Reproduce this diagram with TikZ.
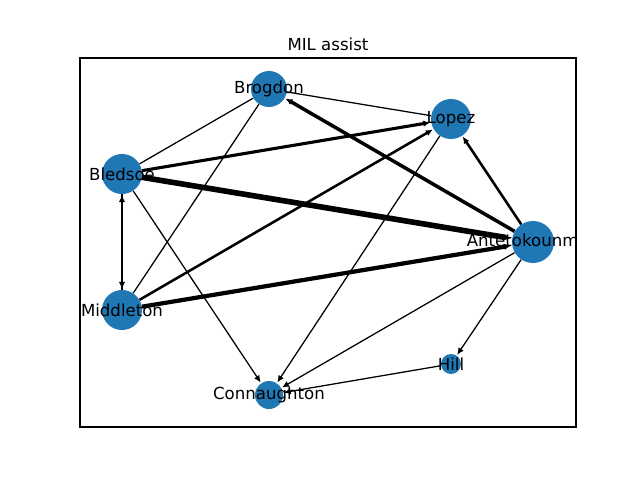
\documentclass[tikz,border=0pt]{standalone}
\usepackage{fontspec}
\setmainfont{DejaVu Sans}
\usetikzlibrary{arrows.meta,positioning}
\definecolor{nodeblue}{HTML}{1F77B4}
\begin{document}
\begin{tikzpicture}[x=0.025cm,y=-0.025cm]
\tikzstyle{player}=[circle,fill=nodeblue,inner sep=0pt]
\tikzstyle{playername}=[font=\fontsize{11.8}{14}\selectfont,inner sep=0pt]
\tikzstyle{pass}=[-{Latex[length=5pt,width=4.5pt]},line width=0.9pt,shorten >=0.5pt]
\tikzstyle{plainpass}=[line width=0.9pt]
\useasboundingbox (0,0) rectangle (640,480);
\node [font=\fontsize{11.8}{14}\selectfont] at (328,44) (title) {MIL assist};
\draw [line width=0.8pt] (80,58) rectangle (576,427);
\node [player,minimum size=0.9cm] at (269,89) (brog) {};
\node [player,minimum size=1.0cm] at (451,119) (lopez) {};
\node [player,minimum size=1.0cm] at (122,174) (bled) {};
\node [player,minimum size=1.05cm] at (533,242) (ante) {};
\node [player,minimum size=1.0cm] at (122,310) (midd) {};
\node [player,minimum size=0.5cm] at (451,364) (hill) {};
\node [player,minimum size=0.7cm] at (269,395) (conn) {};
\draw [pass,line width=4pt] (bled) -- (ante);
\draw [pass,line width=3pt] (midd) -- (ante);
\draw [pass,line width=2.5pt] (ante) -- (brog);
\draw [pass,line width=2.2pt] (bled) -- (lopez);
\draw [pass,line width=1.8pt] (ante) -- (lopez);
\draw [pass,line width=1.8pt] (midd) -- (lopez);
\draw [pass,line width=1.8pt] (bled) -- (midd);
\draw [pass,line width=1.8pt] (midd) -- (bled);
\draw [plainpass] (brog) -- (lopez);
\draw [plainpass] (bled) -- (brog);
\draw [plainpass] (midd) -- (brog);
\draw [pass] (bled) -- (conn);
\draw [pass] (lopez) -- (conn);
\draw [pass] (ante) -- (conn);
\draw [pass] (ante) -- (hill);
\draw [pass] (hill) -- (conn);
\begin{scope}
\clip (80,58) rectangle (576,427);
\node [playername] at (brog) (lbrog) {Brogdon};
\node [playername] at (lopez) (llopez) {Lopez};
\node [playername] at (bled) (lbled) {Bledsoe};
\node [playername] at (ante) (lante) {Antetokounmpo};
\node [playername] at (midd) (lmidd) {Middleton};
\node [playername] at (hill) (lhill) {Hill};
\node [playername] at (conn) (lconn) {Connaughton};
\end{scope}
\end{tikzpicture}
\end{document}
